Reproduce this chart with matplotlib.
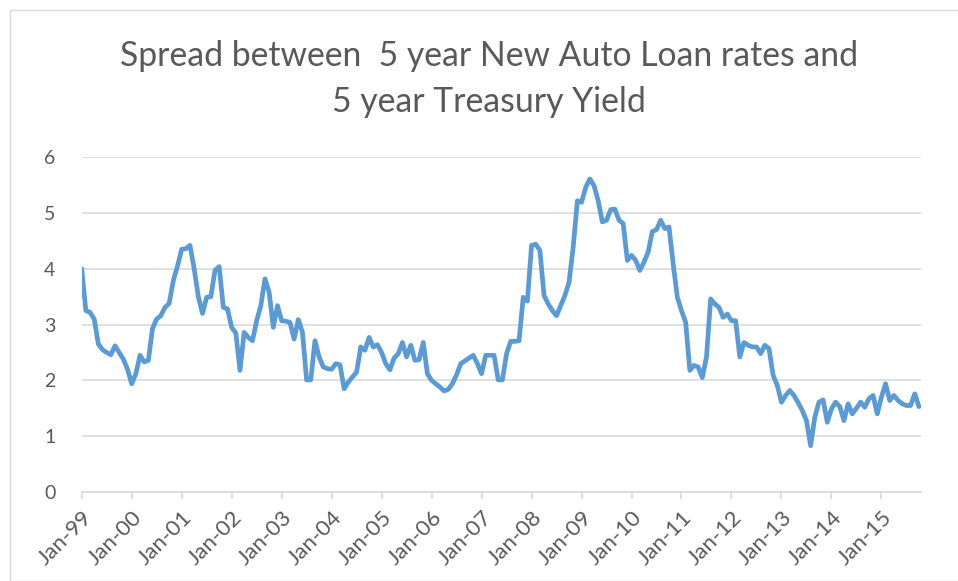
import matplotlib
matplotlib.use("Agg")
import matplotlib.pyplot as plt
import matplotlib.transforms as mtransforms
import numpy as np

# Monthly spread (percentage points), Jan-1999 .. Oct-2015
spread = [
    # 1999
    4.00, 3.25, 3.22, 3.10, 2.65, 2.55, 2.50, 2.46, 2.62, 2.50, 2.38, 2.20,
    # 2000
    1.94, 2.12, 2.45, 2.33, 2.36, 2.93, 3.10, 3.16, 3.31, 3.38, 3.79, 4.05,
    # 2001
    4.35, 4.36, 4.42, 4.00, 3.50, 3.20, 3.49, 3.50, 3.97, 4.04, 3.31, 3.28,
    # 2002
    2.95, 2.85, 2.18, 2.86, 2.77, 2.71, 3.07, 3.34, 3.82, 3.58, 2.95, 3.34,
    # 2003
    3.07, 3.06, 3.04, 2.74, 3.09, 2.86, 2.01, 2.01, 2.71, 2.42, 2.24, 2.21,
    # 2004
    2.20, 2.30, 2.28, 1.85, 1.97, 2.06, 2.15, 2.60, 2.54, 2.77, 2.60, 2.64,
    # 2005
    2.50, 2.30, 2.19, 2.40, 2.48, 2.68, 2.42, 2.63, 2.36, 2.37, 2.68, 2.12,
    # 2006
    2.00, 1.94, 1.88, 1.81, 1.84, 1.94, 2.10, 2.30, 2.35, 2.40, 2.45, 2.30,
    # 2007
    2.12, 2.45, 2.45, 2.45, 2.01, 2.01, 2.48, 2.70, 2.70, 2.71, 3.49, 3.42,
    # 2008
    4.42, 4.44, 4.33, 3.52, 3.37, 3.25, 3.16, 3.34, 3.52, 3.76, 4.39, 5.22,
    # 2009
    5.19, 5.46, 5.61, 5.49, 5.22, 4.84, 4.87, 5.06, 5.07, 4.87, 4.81, 4.15,
    # 2010
    4.24, 4.15, 3.97, 4.12, 4.30, 4.67, 4.70, 4.87, 4.72, 4.75, 4.09, 3.49,
    # 2011
    3.25, 3.04, 2.18, 2.27, 2.24, 2.05, 2.42, 3.46, 3.37, 3.31, 3.13, 3.19,
    # 2012
    3.07, 3.07, 2.42, 2.68, 2.63, 2.60, 2.60, 2.48, 2.63, 2.57, 2.09, 1.91,
    # 2013
    1.61, 1.73, 1.82, 1.73, 1.60, 1.46, 1.28, 0.83, 1.34, 1.61, 1.65, 1.25,
    # 2014
    1.49, 1.61, 1.53, 1.28, 1.58, 1.40, 1.50, 1.61, 1.52, 1.67, 1.73, 1.40,
    # 2015
    1.70, 1.94, 1.64, 1.73, 1.64, 1.58, 1.55, 1.55, 1.76, 1.53,
]
year_labels = ["Jan-99", "Jan-00", "Jan-01", "Jan-02", "Jan-03", "Jan-04",
               "Jan-05", "Jan-06", "Jan-07", "Jan-08", "Jan-09", "Jan-10",
               "Jan-11", "Jan-12", "Jan-13", "Jan-14", "Jan-15"]
y_ticks = [0, 1, 2, 3, 4, 5, 6]
title = "Spread between  5 year New Auto Loan rates and\n5 year Treasury Yield"

W, H = 958, 581
fig = plt.figure(figsize=(W / 100, H / 100), dpi=100)
fig.patch.set_facecolor("white")

font = ["Lato", "DejaVu Sans"]
gray_text = "#595959"
grid_col = "#D9D9D9"

left_px, right_px, top_px, bottom_px = 81.7, 921.0, 157.2, 492.0
ax = fig.add_axes([left_px / W, 1 - bottom_px / H,
                   (right_px - left_px) / W, (bottom_px - top_px) / H])

months = np.arange(len(spread))
ax.plot(months, spread, color="#5B9BD5", linewidth=3.4,
        solid_joinstyle="round", solid_capstyle="round", zorder=3)

ax.set_ylim(0, 6)
ax.set_xlim(0, len(spread) - 0.5)
ax.set_yticks(y_ticks)
ax.set_yticklabels([str(v) for v in y_ticks], family=font, fontsize=14,
                   color=gray_text)
ax.set_xticks(np.arange(len(year_labels)) * 12)
ax.set_xticklabels(year_labels, family=font, fontsize=16, color=gray_text,
                   rotation=45, ha="right", va="top", rotation_mode="anchor")
shift = mtransforms.ScaledTranslation(8 / 100, 0, fig.dpi_scale_trans)
for lab in ax.get_xticklabels():
    lab.set_transform(lab.get_transform() + shift)

ax.grid(axis="y", color=grid_col, linewidth=1.2, zorder=0)
for s in ["top", "right", "left"]:
    ax.spines[s].set_visible(False)
ax.spines["bottom"].set_color(grid_col)
ax.spines["bottom"].set_linewidth(1.2)
ax.tick_params(axis="y", length=0, pad=19)
ax.tick_params(axis="x", length=5, width=1.2, color=grid_col, pad=6)

fig.text(489 / W, 1 - 79 / H, title, ha="center", va="center",
         family=font, fontsize=24.3, color=gray_text, linespacing=1.55)

# chart-area border
fig.add_artist(plt.Rectangle((10 / W, 0.0), 1.2, 1 - 10 / H,
                             transform=fig.transFigure, fill=False,
                             edgecolor="#D9D9D9", linewidth=1.0))

fig.savefig("out.png", dpi=100, facecolor="white")
